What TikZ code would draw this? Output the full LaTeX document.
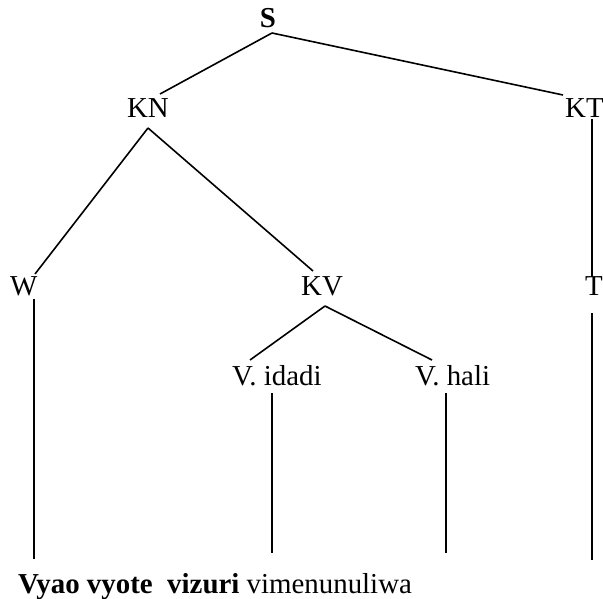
\documentclass[tikz,border=0pt]{standalone}
\usepackage{fontspec}
\setmainfont{Liberation Serif}
\begin{document}
\begin{tikzpicture}[x=1bp,y=-1bp,
  lbl/.style={inner sep=0pt, anchor=base, font=\fontsize{29}{34}\selectfont},
  edge/.style={line width=1.6bp, line cap=butt}]
\useasboundingbox (0,0) rectangle (603,599);
% labels
\node[lbl] (S) at (268,28) {\textbf{S}};
\node[lbl] (KN) at (148,118) {KN};
\node[lbl, anchor=base west] (KT) at (565,118) {KT};
\node[lbl, anchor=base west] (W) at (10,295) {W};
\node[lbl] (KV) at (322,295) {KV};
\node[lbl, anchor=base west] (T) at (585,295) {T};
\node[lbl, anchor=base west] (VI) at (232,385) {V. idadi};
\node[lbl, anchor=base west] (VH) at (415,385) {V. hali};
\node[lbl, anchor=base west] (sent) at (18,593) {\textbf{Vyao vyote\ \ vizuri} vimenunuliwa};
% free ends of the leaf lines
\coordinate (eW) at (34,559);
\coordinate (eVI) at (272,553);
\coordinate (eVH) at (446,553);
\coordinate (eT) at (592,560);
% connectors
\draw[edge] ([shift={(4,5)}]S.base) -- ([shift={(12,-24)}]KN.base);
\draw[edge] ([shift={(4,5)}]S.base) -- ([shift={(-2,-23)}]KT.base west);
\draw[edge] ([shift={(0,10)}]KN.base) -- ([shift={(25,-21)}]W.base west);
\draw[edge] ([shift={(0,10)}]KN.base) -- ([shift={(-9,-24)}]KV.base);
\draw[edge] ([shift={(3,11)}]KV.base) -- ([shift={(18,-25)}]VI.base west);
\draw[edge] ([shift={(3,11)}]KV.base) -- ([shift={(17,-25)}]VH.base west);
\draw[edge] ([shift={(27,1)}]KT.base west) -- ([shift={(7,-18)}]T.base west);
\draw[edge] ([shift={(24,4)}]W.base west) -- (eW);
\draw[edge] ([shift={(40,8)}]VI.base west) -- (eVI);
\draw[edge] ([shift={(31,8)}]VH.base west) -- (eVH);
\draw[edge] ([shift={(7,18)}]T.base west) -- (eT);
\end{tikzpicture}
\end{document}
